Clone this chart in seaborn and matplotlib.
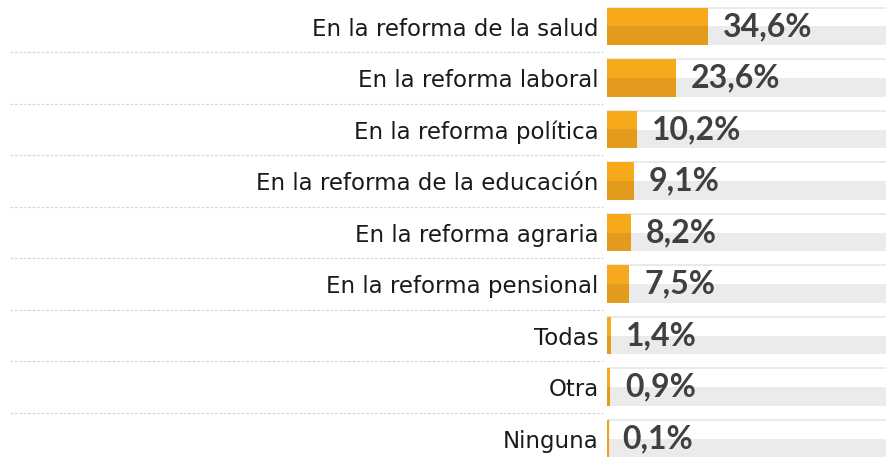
import matplotlib
matplotlib.use("Agg")
import matplotlib.pyplot as plt
import seaborn as sns
import pandas as pd

# data
categories = [
    "En la reforma de la salud",
    "En la reforma laboral",
    "En la reforma política",
    "En la reforma de la educación",
    "En la reforma agraria",
    "En la reforma pensional",
    "Todas",
    "Otra",
    "Ninguna",
]
values = [34.6, 23.6, 10.2, 9.1, 8.2, 7.5, 1.4, 0.9, 0.1]
value_labels = ["34,6%", "23,6%", "10,2%", "9,1%", "8,2%", "7,5%", "1,4%", "0,9%", "0,1%"]

df = pd.DataFrame({"categoria": categories, "valor": values})

sns.set_theme(style="white")
plt.rcParams["font.family"] = ["Lato", "DejaVu Sans"]

W, H = 887, 461
fig = plt.figure(figsize=(W / 100, H / 100), dpi=100)
left_px = 607
ax = fig.add_axes([left_px / W, 0, 1 - left_px / W, 1])

px_per_unit = 2.92
xmax = (W - left_px) / px_per_unit
row_h = 51.5
first_c = 26.5
bar_h = 0.72

ypos = list(range(len(categories)))

# grey track in the lower half of each row plus thin line on top
ax.barh(ypos, [xmax] * len(ypos), height=bar_h / 2, left=0, align="edge",
        color="#ebebeb", linewidth=0, zorder=1)
ax.hlines([y - bar_h / 2 for y in ypos], 0, xmax, color="#e6e6e6", lw=1.2, zorder=1)

# main bars (darker shade), then lighter top half
sns.barplot(data=df, x="valor", y="categoria", orient="h", color="#e29b1c",
            saturation=1, width=bar_h, linewidth=0, ax=ax, zorder=2)
ax.barh([y - bar_h / 2 for y in ypos], values, height=bar_h / 2, align="edge",
        color="#f6a91a", linewidth=0, zorder=3)
for y, v in zip(ypos, values):
    if v < 0.6:
        ax.vlines(0.3, y - bar_h / 2, y + bar_h / 2, color="#f0a31a", lw=1.6, zorder=4)

for y, v, lab in zip(ypos, values, value_labels):
    ax.annotate(lab, xy=(v, y), xytext=(11, 0), textcoords="offset points",
                ha="left", va="center", fontsize=23, fontweight="bold",
                color="#404040", zorder=5)

# dashed separators on the label side
mids = [y + 0.5 for y in ypos[:-1]]
ax.hlines(mids, (10 - left_px) / (W - left_px), (603 - left_px) / (W - left_px),
          transform=ax.get_yaxis_transform(), clip_on=False,
          colors="#d6d6d6", lw=0.8, linestyles=(0, (2.5, 1.5)))

ax.set_xlim(0, xmax)
ax.set_ylim((H - first_c) / row_h, -first_c / row_h)
ax.set_xlabel("")
ax.set_ylabel("")
ax.set_xticks([])
ax.set_yticks(ypos)
ax.set_yticklabels(categories, fontsize=16.5, color="#1a1a1a", family="DejaVu Sans")
ax.tick_params(axis="y", length=0, pad=6)
for s in ax.spines.values():
    s.set_visible(False)

fig.savefig("out.png", dpi=100)
